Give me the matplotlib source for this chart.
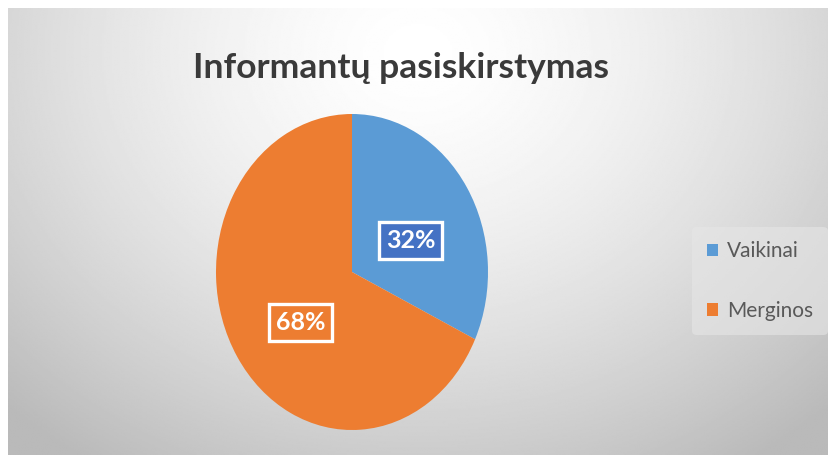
import numpy as np
import matplotlib
matplotlib.use("Agg")
from matplotlib import pyplot as plt

# data
labels = ['Vaikinai', 'Merginos']
shares = [32, 68]
colors = ['#5B9BD5', '#ED7D31']
box_colors = ['#4472C4', '#ED7D31']

plt.rcParams['font.family'] = ['Lato', 'DejaVu Sans']

W, H = 834, 461
fig = plt.figure(figsize=(W / 100, H / 100), dpi=100)
fig.patch.set_facecolor('white')

# background with radial gradient
bg = fig.add_axes([8 / W, 6 / H, 820 / W, 447 / H])
yy, xx = np.mgrid[0:1:300j, 0:1:500j]
d = np.sqrt(((xx - 0.5) / 0.72) ** 2 + ((yy - 0.1) / 1.1) ** 2)
shade = 1.0 - 0.27 * np.clip(d, 0, 1) ** 1.5
bg.imshow(shade, cmap='gray', vmin=0, vmax=1, aspect='auto',
          extent=[0, 1, 1, 0], interpolation='bilinear')
bg.set_axis_off()

# pie (elliptical as in the reference)
ax = fig.add_axes([(352 - 136) / W, (461 - 272 - 158) / H, 272 / W, 316 / H])
wedges, _ = ax.pie(shares, colors=colors, startangle=90, counterclock=False,
                   wedgeprops=dict(linewidth=0))
ax.set_aspect('auto')
ax.set_xlim(-1, 1)
ax.set_ylim(-1, 1)
ax.set_axis_off()

label_pos = [(0.43, 0.20), (-0.38, -0.32)]
for s, (x, y), bc in zip(shares, label_pos, box_colors):
    ax.text(x, y, f'{s}%', ha='center', va='center', color='white',
            fontsize=18, fontweight='bold',
            bbox=dict(boxstyle='square,pad=0.28', fc=bc, ec='white', lw=2.4))

fig.text(401 / W, 1 - 68 / H, 'Informantų pasiskirstymas', ha='center',
         va='center', fontsize=25.5, fontweight='bold', color='#3a3a3a')

leg = fig.legend(wedges, labels, loc='center left',
                 bbox_to_anchor=(682 / W, 1 - 281 / H), frameon=True,
                 fontsize=15, handlelength=0.55, handleheight=0.55,
                 handletextpad=0.4, labelspacing=1.9, borderpad=0.7,
                 labelcolor='#595959')
leg.get_frame().set_facecolor('#e6e6e6')
leg.get_frame().set_edgecolor('none')
leg.get_frame().set_alpha(0.6)

fig.savefig('out.png', dpi=100)
